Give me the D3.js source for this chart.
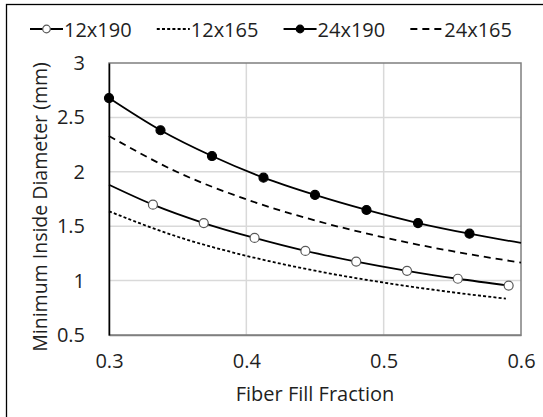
<!DOCTYPE html>
<html>
<head>
<meta charset="utf-8">
<script src="https://cdn.jsdelivr.net/npm/d3@7"></script>
<style>
    body { margin: 0; background: #fff; }
    text { font-family: "Open Sans", sans-serif; fill: #1f1f1f; }
</style>
</head>
<body>
<div id="chart"></div>
<script>

// values
let fill12x190 = [0.3, 0.332, 0.369, 0.406, 0.443, 0.480, 0.517, 0.554, 0.591];
let dia12x190 = [1.881, 1.698, 1.529, 1.392, 1.273, 1.175, 1.090, 1.017, 0.954];
let mark12x190 = [false, true, true, true, true, true, true, true, true];

let fill12x165 = [0.3, 0.35, 0.4, 0.45, 0.5, 0.55, 0.589];
let dia12x165 = [1.637, 1.403, 1.228, 1.091, 0.982, 0.893, 0.834];

let fill24x190 = [0.3, 0.3375, 0.375, 0.4125, 0.45, 0.4875, 0.525, 0.5625, 0.6];
let dia24x190 = [2.678, 2.382, 2.145, 1.946, 1.787, 1.649, 1.529, 1.431, 1.346];
let mark24x190 = [true, true, true, true, true, true, true, true, false];

let fill24x165 = [0.3, 0.35, 0.4, 0.45, 0.5, 0.55, 0.6];
let dia24x165 = [2.329, 1.996, 1.747, 1.553, 1.397, 1.270, 1.165];

let xTicks = [0.3, 0.4, 0.5, 0.6];
let yTicks = [0.5, 1, 1.5, 2, 2.5, 3];

let series = [
    {name: "12x190", x: fill12x190, y: dia12x190, marks: mark12x190, dash: null, marker: "open"},
    {name: "12x165", x: fill12x165, y: dia12x165, marks: null, dash: "3,2.2", marker: null},
    {name: "24x190", x: fill24x190, y: dia24x190, marks: mark24x190, dash: null, marker: "filled"},
    {name: "24x165", x: fill24x165, y: dia24x165, marks: null, dash: "7,5", marker: null}
];

let W = 543, H = 417;
let plot = {left: 109, right: 521, top: 63, bottom: 335};

let svg = d3.select("#chart").append("svg")
    .attr("width", W)
    .attr("height", H);

// outer chart frame (only top/left visible in the crop)
svg.append("rect")
    .attr("x", 6.5).attr("y", 4.5)
    .attr("width", 700).attr("height", 700)
    .style("fill", "none")
    .style("stroke", "#000")
    .style("stroke-width", 1.3);

let x = d3.scaleLinear().domain([0.3, 0.6]).range([plot.left, plot.right]);
let y = d3.scaleLinear().domain([0.5, 3]).range([plot.bottom, plot.top]);

// gridlines
svg.append("g").selectAll("line.vgrid")
    .data(xTicks.slice(1, -1))
    .enter().append("line")
    .attr("x1", d => x(d)).attr("x2", d => x(d))
    .attr("y1", plot.top).attr("y2", plot.bottom)
    .style("stroke", "#d9d9d9").style("stroke-width", 1.5);

svg.append("g").selectAll("line.hgrid")
    .data(yTicks.slice(1, -1))
    .enter().append("line")
    .attr("x1", plot.left).attr("x2", plot.right)
    .attr("y1", d => y(d)).attr("y2", d => y(d))
    .style("stroke", "#d9d9d9").style("stroke-width", 1.5);

// plot border + axes
svg.append("rect")
    .attr("x", plot.left).attr("y", plot.top)
    .attr("width", plot.right - plot.left)
    .attr("height", plot.bottom - plot.top)
    .style("fill", "none")
    .style("stroke", "#7f7f7f")
    .style("stroke-width", 1.5);

let xAxis = d3.axisBottom(x).tickValues(xTicks).tickSize(0).tickPadding(19).tickFormat(d3.format(".1f"));
let yAxis = d3.axisLeft(y).tickValues(yTicks).tickSize(0).tickPadding(24).tickFormat(d => d);

let xg = svg.append("g")
    .attr("transform", `translate(0,${plot.bottom})`)
    .call(xAxis);
xg.select(".domain").style("stroke", "#7f7f7f").style("stroke-width", 1.5);
xg.selectAll("text").style("font-size", "20px").attr("dy", "0.71em");

let yg = svg.append("g")
    .attr("transform", `translate(${plot.left},0)`)
    .call(yAxis);
yg.select(".domain").style("stroke", "#000").style("stroke-width", 1.5);
yg.selectAll("text").style("font-size", "20px");

svg.append("text")
    .attr("x", (plot.left + plot.right) / 2)
    .attr("y", 393)
    .style("font-size", "20px")
    .style("text-anchor", "middle")
    .style("dominant-baseline", "central")
    .text("Fiber Fill Fraction");

svg.append("text")
    .attr("transform", `translate(39,${(plot.top + plot.bottom) / 2 + 8}) rotate(-90)`)
    .style("font-size", "19.5px")
    .style("text-anchor", "middle")
    .style("dominant-baseline", "central")
    .text("Minimum Inside Diameter (mm)");

// lines + markers
let line = d3.line()
    .x(d => x(d[0]))
    .y(d => y(d[1]))
    .curve(d3.curveMonotoneX);

series.forEach(s => {
    let pts = s.x.map((v, i) => [v, s.y[i]]);
    svg.append("path")
        .datum(pts)
        .attr("d", line)
        .style("fill", "none")
        .style("stroke", "#000")
        .style("stroke-width", 1.8)
        .style("stroke-dasharray", s.dash);

    if (s.marker) {
        svg.append("g").selectAll("circle")
            .data(pts.filter((d, i) => s.marks[i]))
            .enter().append("circle")
            .attr("cx", d => x(d[0]))
            .attr("cy", d => y(d[1]))
            .attr("r", 4.5)
            .style("fill", s.marker == "open" ? "#fff" : "#000")
            .style("stroke", s.marker == "open" ? "#595959" : "#000")
            .style("stroke-width", 1.2);
    }
});

// legend, spread across 30..512
let legendLeft = 30, legendRight = 512, sampleW = 33;
let legend = svg.append("g").attr("transform", "translate(0,29)");
let items = series.map(s => {
    let g = legend.append("g");
    g.append("line")
        .attr("x1", 0).attr("x2", sampleW)
        .attr("y1", 0).attr("y2", 0)
        .style("stroke", "#000")
        .style("stroke-width", 1.8)
        .style("stroke-dasharray", s.dash);
    if (s.marker) {
        g.append("circle")
            .attr("cx", sampleW / 2).attr("cy", 0).attr("r", 3.8)
            .style("fill", s.marker == "open" ? "#fff" : "#000")
            .style("stroke", s.marker == "open" ? "#595959" : "#000")
            .style("stroke-width", 1.2);
    }
    let t = g.append("text")
        .attr("x", sampleW + 1)
        .attr("y", 0)
        .style("font-size", "20px")
        .style("dominant-baseline", "central")
        .text(s.name);
    return {g: g, w: sampleW + 1 + t.node().getComputedTextLength()};
});
let totalW = d3.sum(items, d => d.w);
let gap = (legendRight - legendLeft - totalW) / (items.length - 1);
let lx = legendLeft;
items.forEach(it => {
    it.g.attr("transform", `translate(${lx},0)`);
    lx += it.w + gap;
});

</script>
</body>
</html>
